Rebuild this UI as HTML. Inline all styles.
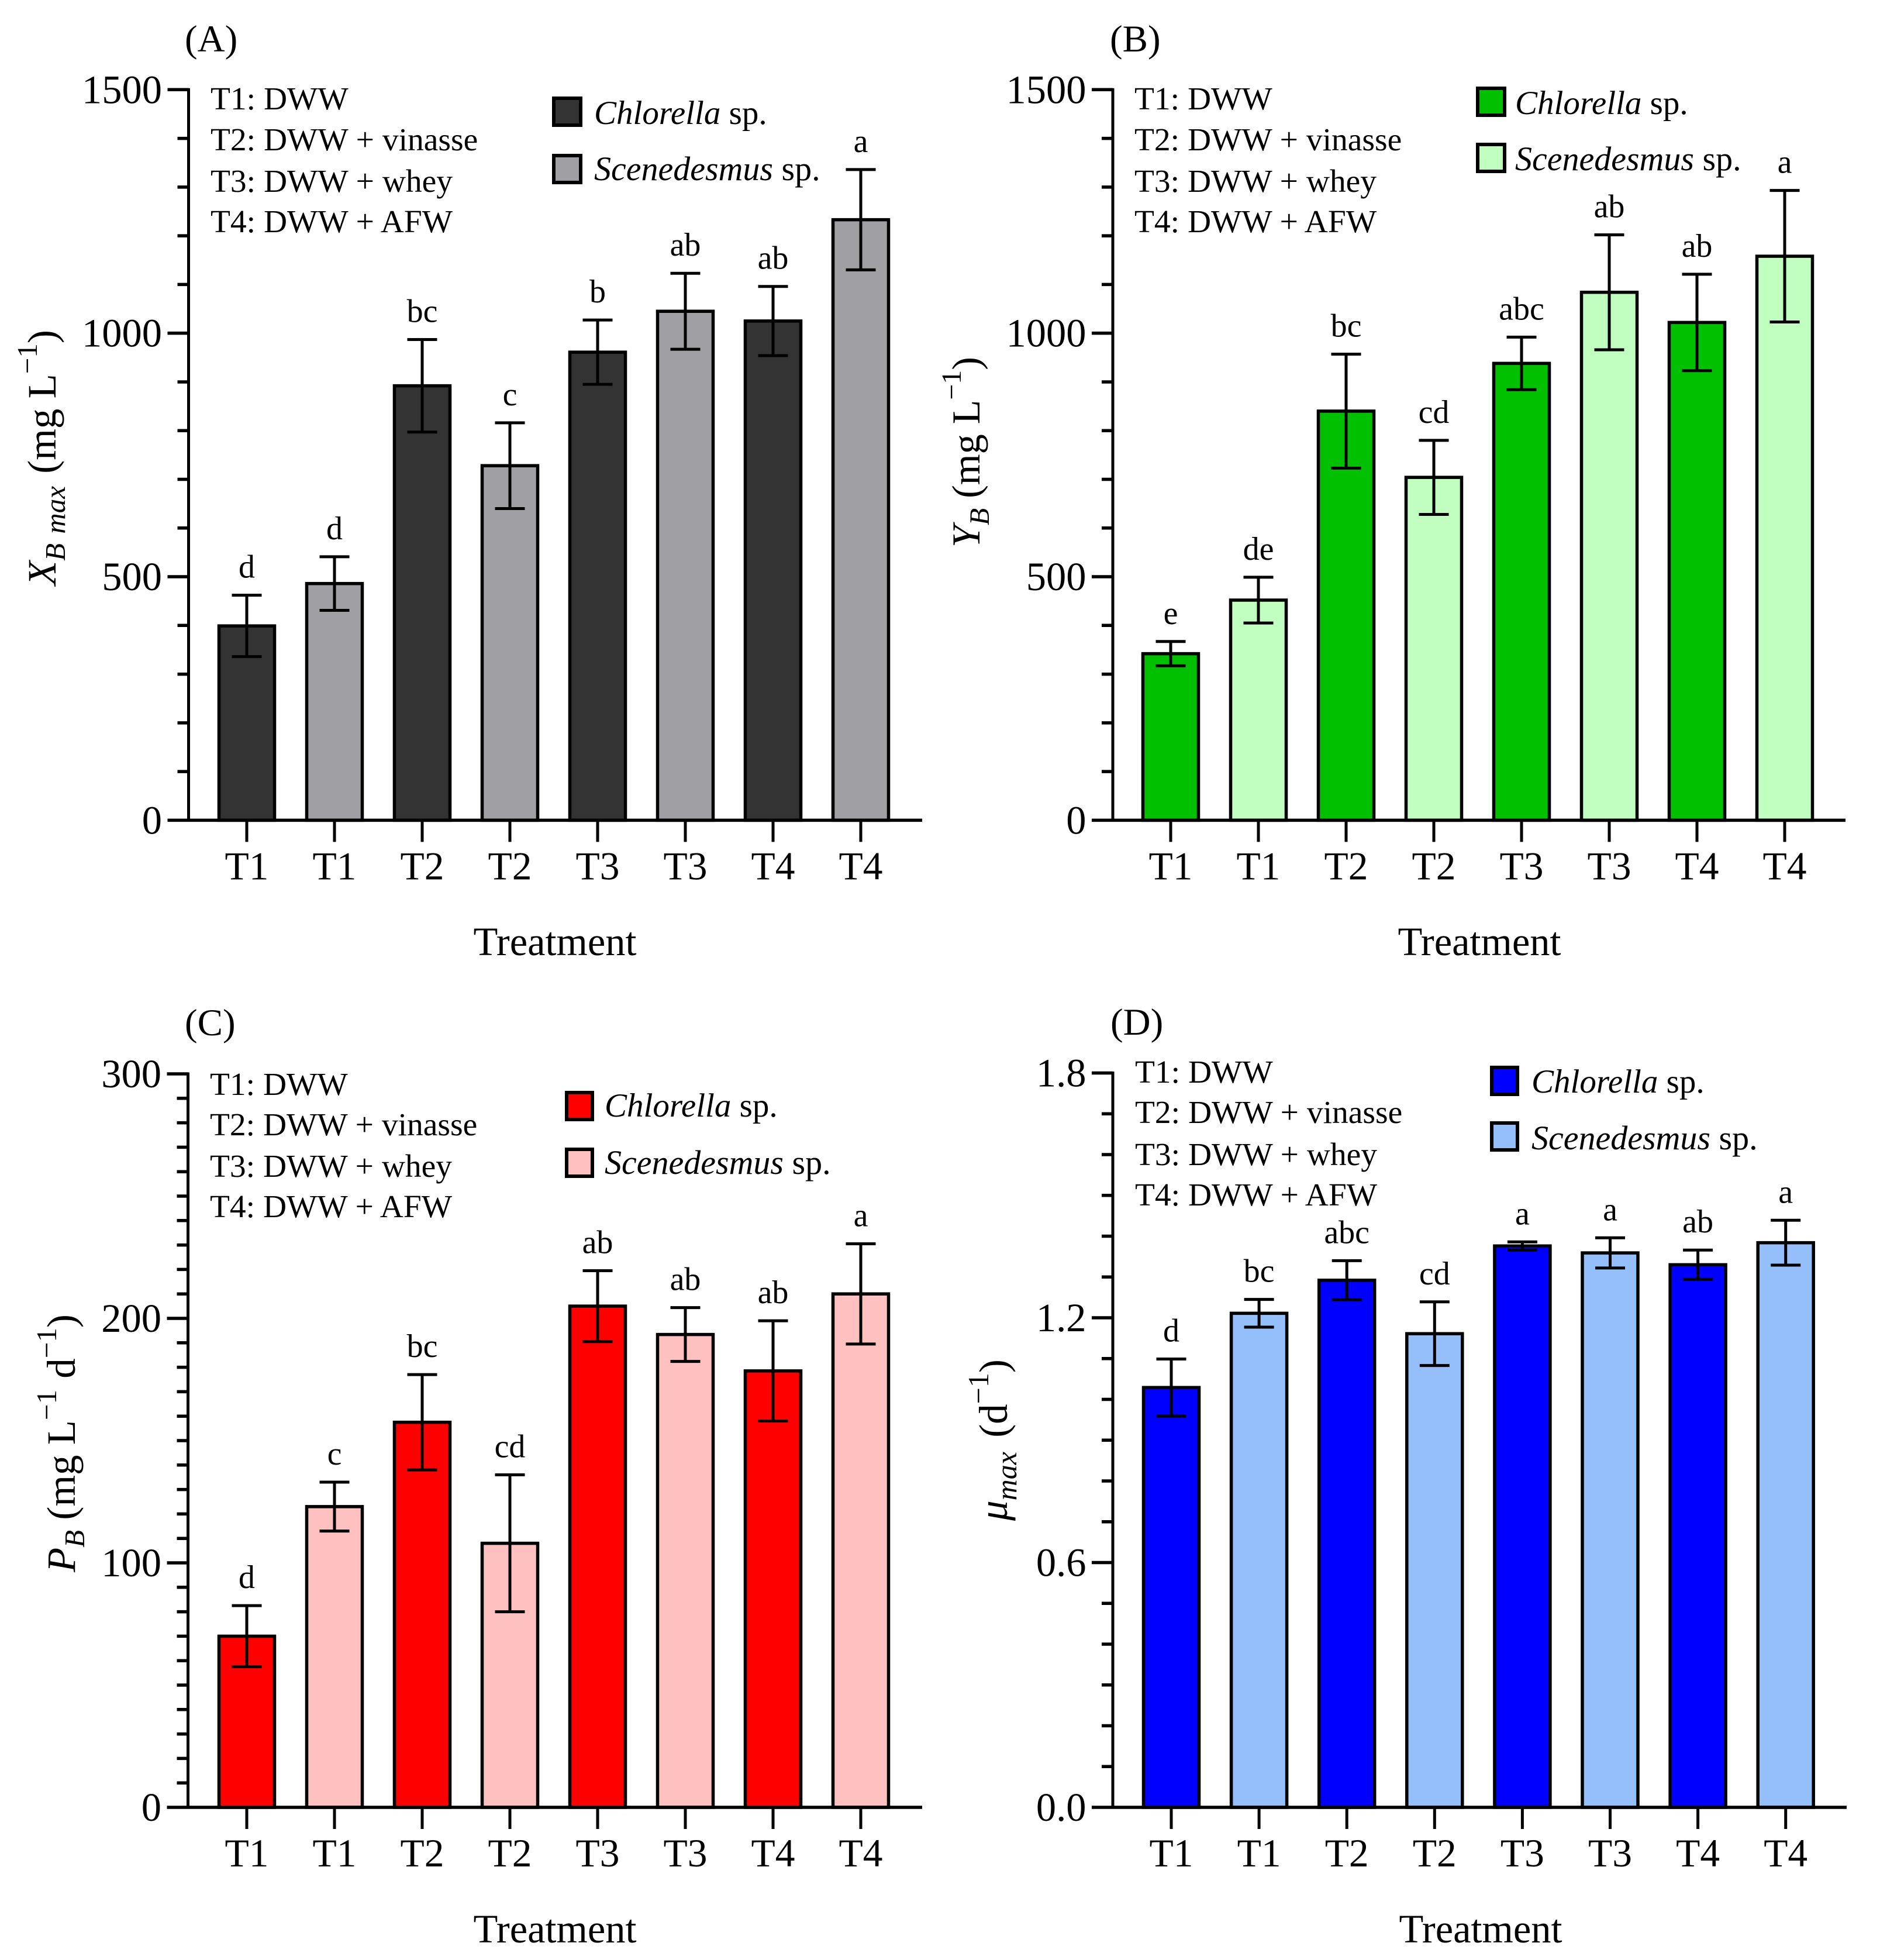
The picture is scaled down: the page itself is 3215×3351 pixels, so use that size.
<!DOCTYPE html>
<html lang="en">
<head>
<meta charset="utf-8">
<title>Microalgae growth by treatment</title>
<style>
html,body{margin:0;padding:0;background:#fff;}
svg{display:block;}
text{font-family:"Liberation Serif","Times New Roman",serif;fill:#000;}
.key{font-size:55.5px;}
.leg{font-size:57px;}
.leg2{font-size:58px;}
.lab{font-size:65px;}
.i{font-style:italic;}
</style>
</head>
<body>
<svg id="chart" xmlns="http://www.w3.org/2000/svg" width="3215" height="3351" viewBox="0 0 3215 3351">
<rect width="3215" height="3351" fill="#fff"/>

<g id="plot-a">
<text class="lab" x="316" y="88">(A)</text>
<g class="key">
<text x="360" y="187">T1: DWW</text>
<text x="360" y="257">T2: DWW + vinasse</text>
<text x="360" y="328">T3: DWW + whey</text>
<text x="360" y="397">T4: DWW + AFW</text>
</g>
<g>
<rect x="947" y="168" width="46" height="46" fill="#333333" stroke="#000" stroke-width="6"/>
<text class="leg" x="1016" y="212"><tspan class="i">Chlorella</tspan> sp.</text>
<rect x="947" y="266" width="46" height="46" fill="#a0a0a4" stroke="#000" stroke-width="6"/>
<text class="leg2" x="1016" y="308"><tspan class="i">Scenedesmus</tspan> sp.</text>
</g>
<text transform="translate(95,1001) rotate(-90)" font-size="69"><tspan class="i">X</tspan><tspan class="i" font-size="49" dy="16">B</tspan><tspan class="i" font-size="49" dx="4"> max</tspan><tspan dy="-16" dx="4"> (mg L</tspan><tspan font-size="49" dy="-32">−1</tspan><tspan dy="32">)</tspan></text>
<text x="949" y="1633" text-anchor="middle" font-size="68.5">Treatment</text>
</g>

<g id="plot-b">
<text class="lab" x="1898" y="88">(B)</text>
<g class="key">
<text x="1940" y="187">T1: DWW</text>
<text x="1940" y="257">T2: DWW + vinasse</text>
<text x="1940" y="328">T3: DWW + whey</text>
<text x="1940" y="397">T4: DWW + AFW</text>
</g>
<g>
<rect x="2527" y="151" width="46" height="46" fill="#00c000" stroke="#000" stroke-width="6"/>
<text class="leg" x="2591" y="195"><tspan class="i">Chlorella</tspan> sp.</text>
<rect x="2527" y="247" width="46" height="46" fill="#c0ffc0" stroke="#000" stroke-width="6"/>
<text class="leg2" x="2591" y="291"><tspan class="i">Scenedesmus</tspan> sp.</text>
</g>
<text transform="translate(1675,936) rotate(-90)" font-size="68"><tspan class="i">Y</tspan><tspan class="i" font-size="48" dy="16">B</tspan><tspan dy="-16"> (mg L</tspan><tspan font-size="48" dy="-32">−1</tspan><tspan dy="32">)</tspan></text>
<text x="2530" y="1633" text-anchor="middle" font-size="68.5">Treatment</text>
</g>

<g id="plot-c">
<text class="lab" x="316" y="1770">(C)</text>
<g class="key">
<text x="359" y="1872">T1: DWW</text>
<text x="359" y="1941">T2: DWW + vinasse</text>
<text x="359" y="2012">T3: DWW + whey</text>
<text x="359" y="2081">T4: DWW + AFW</text>
</g>
<g>
<rect x="969" y="1868" width="44" height="46" fill="#ff0000" stroke="#000" stroke-width="6"/>
<text class="leg" x="1034" y="1909"><tspan class="i">Chlorella</tspan> sp.</text>
<rect x="969" y="1965" width="44" height="46" fill="#ffc0c0" stroke="#000" stroke-width="6"/>
<text class="leg2" x="1034" y="2007"><tspan class="i">Scenedesmus</tspan> sp.</text>
</g>
<text transform="translate(128,2688) rotate(-90)" font-size="69"><tspan class="i">P</tspan><tspan class="i" font-size="49" dy="16">B</tspan><tspan dy="-16"> (mg L</tspan><tspan font-size="49" dy="-32">−1</tspan><tspan dy="32" dx="2"> d</tspan><tspan font-size="49" dy="-32">−1</tspan><tspan dy="32">)</tspan></text>
<text x="949" y="3321" text-anchor="middle" font-size="68.5">Treatment</text>
</g>

<g id="plot-d">
<text class="lab" x="1899" y="1769">(D)</text>
<g class="key">
<text x="1941" y="1851">T1: DWW</text>
<text x="1941" y="1920">T2: DWW + vinasse</text>
<text x="1941" y="1992">T3: DWW + whey</text>
<text x="1941" y="2061">T4: DWW + AFW</text>
</g>
<g>
<rect x="2551" y="1825" width="44" height="46" fill="#0000ff" stroke="#000" stroke-width="6"/>
<text class="leg" x="2619" y="1868"><tspan class="i">Chlorella</tspan> sp.</text>
<rect x="2551" y="1920" width="44" height="46" fill="#94bffa" stroke="#000" stroke-width="6"/>
<text class="leg2" x="2619" y="1965"><tspan class="i">Scenedesmus</tspan> sp.</text>
</g>
<text transform="translate(1722,2600) rotate(-90)" font-size="69"><tspan class="i">μ</tspan><tspan class="i" font-size="50" dy="16">max</tspan><tspan dy="-16" dx="7"> (d</tspan><tspan font-size="50" dy="-32">−1</tspan><tspan dy="32">)</tspan></text>
<text x="2532" y="3321" text-anchor="middle" font-size="68.5">Treatment</text>
</g>
</svg>

<script>
const categories = ['T1','T1','T2','T2','T3','T3','T4','T4'];

const biomassValues = [399,486,892,728,961,1045,1025,1233];
const biomassErrors = [63,55,95,88,66,78,71,103];
const biomassLetters = ['d','d','bc','c','b','ab','ab','a'];
const biomassTicks = [0,500,1000,1500];
const biomassTickLabels = ['0','500','1000','1500'];

const yieldValues = [342,452,840,704,938,1084,1022,1158];
const yieldErrors = [25,47,117,76,54,118,99,135];
const yieldLetters = ['e','de','bc','cd','abc','ab','ab','a'];
const yieldTicks = [0,500,1000,1500];
const yieldTickLabels = ['0','500','1000','1500'];

const productivityValues = [70,123,157.5,108,205,193.4,178.5,210];
const productivityErrors = [12.5,10,19.5,28,14.5,11,20.5,20.5];
const productivityLetters = ['d','c','bc','cd','ab','ab','ab','a'];
const productivityTicks = [0,100,200,300];
const productivityTickLabels = ['0','100','200','300'];

const growthValues = [1.029,1.211,1.292,1.161,1.376,1.359,1.33,1.384];
const growthErrors = [0.07,0.034,0.048,0.078,0.01,0.037,0.036,0.055];
const growthLetters = ['d','bc','abc','cd','a','a','ab','a'];
const growthTicks = [0,0.6,1.2,1.8];
const growthTickLabels = ['0.0','0.6','1.2','1.8'];

const panels = [
  {id:'plot-a', axisX:322.5, base:1402.4, top:153.3, endX:1577, first:422, step:150, max:1500, minor:100, ticks:biomassTicks, tickLabels:biomassTickLabels, values:biomassValues, errors:biomassErrors, letters:biomassLetters, dark:'#333333', light:'#a0a0a4'},
  {id:'plot-b', axisX:1903, base:1402.4, top:153.3, endX:3156, first:2002, step:150, max:1500, minor:100, ticks:yieldTicks, tickLabels:yieldTickLabels, values:yieldValues, errors:yieldErrors, letters:yieldLetters, dark:'#00c000', light:'#c0ffc0'},
  {id:'plot-c', axisX:321.5, base:3090, top:1836, endX:1577, first:422, step:150, max:300, minor:10, ticks:productivityTicks, tickLabels:productivityTickLabels, values:productivityValues, errors:productivityErrors, letters:productivityLetters, dark:'#ff0000', light:'#ffc0c0'},
  {id:'plot-d', axisX:1903, base:3090, top:1834.5, endX:3158, first:2003, step:150.1, max:1.8, minor:0.1, ticks:growthTicks, tickLabels:growthTickLabels, values:growthValues, errors:growthErrors, letters:growthLetters, dark:'#0000ff', light:'#94bffa'}
];

const NS = 'http://www.w3.org/2000/svg';

function yScale(p, v){ return p.base - (v / p.max) * (p.base - p.top); }
function xScale(p, i){ return p.first + i * p.step; }

function line(parent, x1, y1, x2, y2, w, name){
  const el = document.createElementNS(NS, 'line');
  el.setAttribute('x1', x1);
  el.setAttribute('y1', y1);
  el.setAttribute('x2', x2);
  el.setAttribute('y2', y2);
  el.setAttribute('stroke', '#000');
  el.setAttribute('stroke-width', w);
  
  
  parent.appendChild(el);
  return el;
}

function label(parent, x, y, str, size, anchor, name){
  const el = document.createElementNS(NS, 'text');
  el.setAttribute('x', x);
  el.setAttribute('y', y);
  el.setAttribute('font-size', size);
  el.setAttribute('text-anchor', anchor);
  
  
  el.textContent = str;
  parent.appendChild(el);
  return el;
}

panels.forEach(function(p){
  const g = document.getElementById(p.id);

  // bars
  p.values.forEach(function(v, i){
    const cx = xScale(p, i);
    const y = yScale(p, v);
    const bar = document.createElementNS(NS, 'rect');
    bar.setAttribute('x', cx - 47.5);
    bar.setAttribute('y', y);
    bar.setAttribute('width', 95);
    bar.setAttribute('height', p.base - y);
    bar.setAttribute('fill', i % 2 === 0 ? p.dark : p.light);
    bar.setAttribute('stroke', '#000');
    bar.setAttribute('stroke-width', 5.5);
    
    
    g.appendChild(bar);
  });

  // error bars and significance letters
  p.values.forEach(function(v, i){
    const cx = xScale(p, i);
    const hi = yScale(p, v + p.errors[i]);
    const lo = yScale(p, v - p.errors[i]);
    line(g, cx, hi, cx, lo, 5, 'error-bar-stem');
    line(g, cx - 25.5, hi, cx + 25.5, hi, 5, 'error-bar-cap-upper');
    line(g, cx - 25.5, lo, cx + 25.5, lo, 5, 'error-bar-cap-lower');
    label(g, cx, hi - 30, p.letters[i], 56, 'middle', 'significance-letter');
  });

  // axes
  line(g, p.axisX, p.top - 2.5, p.axisX, p.base, 5, 'y-axis-line');
  line(g, p.axisX - 36, p.base, p.endX, p.base, 5.5, 'x-axis-line');

  // minor y ticks
  const minorCount = Math.round(p.max / p.minor);
  for (let k = 0; k <= minorCount; k++) {
    const v = k * p.minor;
    const isMajor = p.ticks.some(function(t){ return Math.abs(t - v) < 1e-6; });
    if (isMajor) continue;
    const y = yScale(p, v);
    line(g, p.axisX - 19, y, p.axisX, y, 5.5, 'y-minor-tick');
  }

  // major y ticks and labels
  p.ticks.forEach(function(t, i){
    const y = yScale(p, t);
    if (t !== 0) line(g, p.axisX - 36, y, p.axisX, y, 5.5, 'y-major-tick');
    label(g, p.axisX - 45.5, y + 23, p.tickLabels[i], 68.5, 'end', 'y-tick-label');
  });

  // x ticks and labels
  categories.forEach(function(c, i){
    const cx = xScale(p, i);
    line(g, cx, p.base, cx, p.base + 37, 5, 'x-tick');
    label(g, cx, p.base + 101, c, 67.5, 'middle', 'x-tick-label');
  });
});
</script>
</body>
</html>
